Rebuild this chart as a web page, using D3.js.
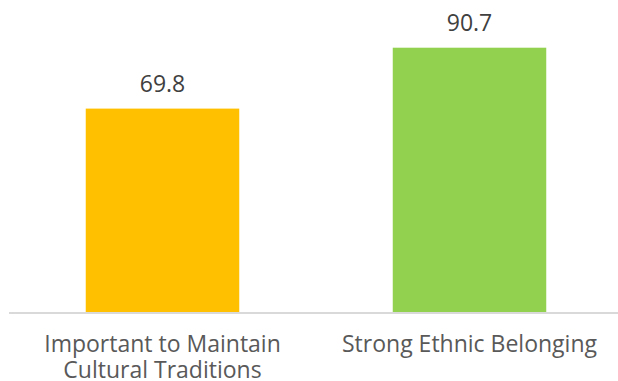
<!DOCTYPE html>
<html>
<head>
<meta charset="utf-8">
<script src="https://cdn.jsdelivr.net/npm/d3@7"></script>
<style>
  html, body { margin: 0; padding: 0; background: #fff; }
  svg { display: block; }
</style>
</head>
<body>
<svg id="chart" width="618" height="381"></svg>
<script>
const categories = [
  ["Important to Maintain", "Cultural Traditions"],
  ["Strong Ethnic Belonging"]
];
const values = [69.8, 90.7];
const barColors = ["#FFC000", "#92D050"];

const W = 618, H = 381;
const svg = d3.select("#chart");
const font = "'Open Sans', 'Noto Sans', sans-serif";

const x = d3.scaleBand()
  .domain(d3.range(values.length))
  .range([9, 623])
  .paddingInner(0.5)
  .paddingOuter(0.25);

const y = d3.scaleLinear()
  .domain([0, 100])
  .range([312, 20.6]);

// bars
svg.append("g").selectAll("rect")
  .data(values)
  .join("rect")
  .attr("x", (d, i) => x(i))
  .attr("width", x.bandwidth())
  .attr("y", d => y(d))
  .attr("height", d => y(0) - y(d))
  .attr("fill", (d, i) => barColors[i]);

// axis baseline
const axis = d3.axisBottom(x).tickSize(0).tickFormat("");
const gAxis = svg.append("g").attr("transform", `translate(0,${y(0) + 1})`).call(axis);
gAxis.select(".domain").remove();
gAxis.append("line")
  .attr("x1", 9).attr("x2", 618)
  .attr("y1", 0).attr("y2", 0)
  .attr("stroke", "#d9d9d9")
  .attr("stroke-width", 2);

// value labels
svg.append("g").selectAll("text")
  .data(values)
  .join("text")
  .attr("x", (d, i) => x(i) + x.bandwidth() / 2)
  .attr("y", d => y(d) - 17)
  .attr("text-anchor", "middle")
  .attr("font-family", font)
  .attr("font-size", 23)
  .attr("fill", "#404040")
  .text(d => d.toFixed(1));

// category labels
const cat = svg.append("g").selectAll("text")
  .data(categories)
  .join("text")
  .attr("x", (d, i) => x(i) + x.bandwidth() / 2)
  .attr("y", 351.5)
  .attr("text-anchor", "middle")
  .attr("font-family", font)
  .attr("font-size", 23)
  .attr("fill", "#595959");
cat.selectAll("tspan")
  .data(d => d)
  .join("tspan")
  .attr("x", function() { return this.parentNode.getAttribute("x"); })
  .attr("dy", (d, i) => i === 0 ? 0 : 26.5)
  .text(d => d);
</script>
</body>
</html>
